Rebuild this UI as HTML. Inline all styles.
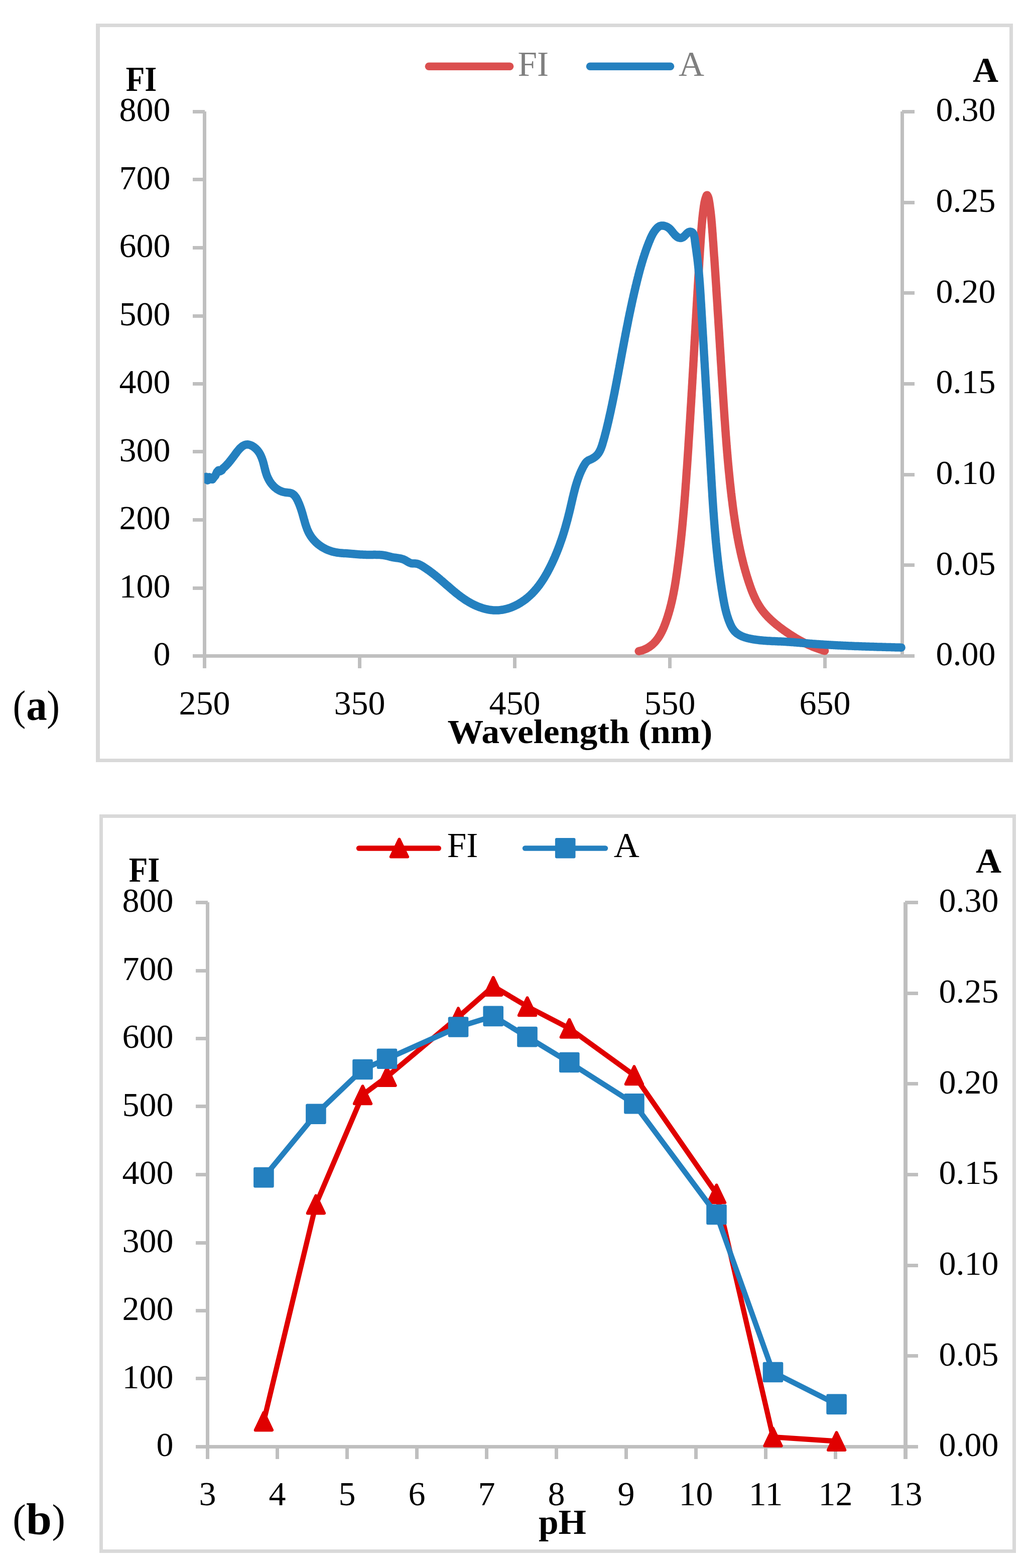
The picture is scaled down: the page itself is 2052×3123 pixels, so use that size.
<!DOCTYPE html>
<html lang="en">
<head>
<meta charset="utf-8">
<title>Figure: absorption and fluorescence spectra (a) and pH dependence (b)</title>
<style>
html,body{margin:0;padding:0;background:#fff;}
body{width:2052px;height:3123px;}
svg{display:block;}
text{font-family:"Liberation Serif","DejaVu Serif",serif;fill:#000;}
</style>
</head>
<body>
<svg width="2052" height="3123" viewBox="0 0 2052 3123" role="img" aria-label="Absorption and fluorescence spectra (a) and pH dependence (b)">
<rect x="0" y="0" width="2052" height="3123" fill="#fff"/>
<!-- chart (a) -->
<path fill="#D9D9D9" fill-rule="evenodd" d="M191 47H2018V1518H191ZM199 54H2011V1511H199Z"/>
<g fill="#BFBFBF">
<rect x="404" y="222" width="7" height="1085"/>
<rect x="1794" y="222" width="7" height="1085"/>
<rect x="384" y="1303" width="1438" height="7"/>
<rect x="384" y="219" width="24" height="7"/>
<rect x="384" y="354" width="24" height="7"/>
<rect x="384" y="490" width="24" height="7"/>
<rect x="384" y="626" width="24" height="7"/>
<rect x="384" y="761" width="24" height="7"/>
<rect x="384" y="896" width="24" height="7"/>
<rect x="384" y="1032" width="24" height="7"/>
<rect x="384" y="1168" width="24" height="7"/>
<rect x="1797" y="219" width="25" height="7"/>
<rect x="1797" y="400" width="25" height="7"/>
<rect x="1797" y="580" width="25" height="7"/>
<rect x="1797" y="761" width="25" height="7"/>
<rect x="1797" y="942" width="25" height="7"/>
<rect x="1797" y="1122" width="25" height="7"/>
<rect x="404" y="1306" width="7" height="25"/>
<rect x="713" y="1306" width="7" height="25"/>
<rect x="1022" y="1306" width="7" height="25"/>
<rect x="1331" y="1306" width="7" height="25"/>
<rect x="1640" y="1306" width="7" height="25"/>
</g>
<defs><clipPath id="clipA"><rect x="407" y="200" width="1420" height="1120"/></clipPath></defs>
<g fill="none" stroke-width="16.5" stroke-linecap="round" stroke-linejoin="round" clip-path="url(#clipA)">
<path stroke="#DB4F4F" d="M1272.7 1297.0L1274.3 1296.6L1276.0 1296.2L1277.6 1295.8L1279.1 1295.3L1280.7 1294.8L1282.1 1294.3L1283.6 1293.7L1285.0 1293.1L1286.4 1292.4L1287.8 1291.8L1289.2 1291.1L1290.5 1290.3L1291.8 1289.6L1293.0 1288.8L1294.2 1287.9L1295.5 1287.1L1296.6 1286.2L1297.8 1285.3L1298.9 1284.4L1300.0 1283.5L1301.1 1282.5L1302.1 1281.5L1303.2 1280.5L1304.2 1279.4L1305.1 1278.3L1306.1 1277.3L1307.0 1276.2L1307.9 1275.0L1308.8 1273.9L1309.7 1272.7L1310.6 1271.5L1311.4 1270.3L1312.2 1269.1L1313.0 1267.9L1313.8 1266.6L1314.6 1265.4L1315.3 1264.1L1316.0 1262.8L1316.7 1261.5L1317.4 1260.2L1318.1 1258.8L1318.8 1257.5L1319.4 1256.1L1320.1 1254.8L1320.7 1253.4L1321.3 1252.0L1321.9 1250.7L1322.5 1249.3L1323.1 1247.9L1323.6 1246.4L1324.2 1245.0L1324.7 1243.6L1325.3 1242.2L1325.8 1240.8L1326.3 1239.3L1326.8 1237.9L1327.3 1236.5L1327.8 1235.0L1328.3 1233.6L1328.8 1232.2L1329.3 1230.7L1329.7 1229.3L1330.2 1227.8L1330.6 1226.4L1331.1 1224.9L1331.5 1223.5L1332.0 1222.1L1332.4 1220.6L1332.8 1219.2L1333.2 1217.7L1333.6 1216.3L1334.1 1214.8L1334.5 1213.4L1334.8 1211.9L1335.2 1210.4L1335.6 1209.0L1336.0 1207.5L1336.4 1206.1L1336.7 1204.6L1337.1 1203.1L1337.4 1201.7L1337.8 1200.2L1338.1 1198.8L1338.5 1197.3L1338.8 1195.8L1339.1 1194.4L1339.4 1192.9L1339.8 1191.4L1340.1 1190.0L1340.4 1188.5L1340.7 1187.0L1341.0 1185.5L1341.3 1184.1L1341.6 1182.6L1341.9 1181.1L1342.2 1179.6L1342.4 1178.2L1342.7 1176.7L1343.0 1175.2L1343.3 1173.7L1343.5 1172.3L1343.8 1170.8L1344.1 1169.3L1344.3 1167.8L1344.6 1166.3L1344.8 1164.9L1345.1 1163.4L1345.3 1161.9L1345.6 1160.4L1345.8 1158.9L1346.0 1157.5L1346.3 1156.0L1346.5 1154.5L1346.7 1153.0L1346.9 1151.5L1347.2 1150.0L1347.4 1148.5L1347.6 1147.1L1347.8 1145.6L1348.0 1144.1L1348.3 1142.6L1348.5 1141.1L1348.7 1139.6L1348.9 1138.1L1349.1 1136.7L1349.3 1135.2L1349.5 1133.7L1349.7 1132.2L1349.9 1130.7L1350.1 1129.2L1350.3 1127.7L1350.5 1126.2L1350.7 1124.8L1350.9 1123.3L1351.1 1121.8L1351.3 1120.3L1351.5 1118.8L1351.7 1117.3L1351.9 1115.8L1352.1 1114.3L1352.2 1112.8L1352.4 1111.3L1352.6 1109.9L1352.8 1108.4L1353.0 1106.9L1353.2 1105.4L1353.3 1103.9L1353.5 1102.4L1353.7 1100.9L1353.9 1099.4L1354.1 1097.9L1354.2 1096.4L1354.4 1095.0L1354.6 1093.5L1354.7 1092.0L1354.9 1090.5L1355.1 1089.0L1355.3 1087.5L1355.4 1086.0L1355.6 1084.5L1355.8 1083.0L1355.9 1081.5L1356.1 1080.0L1356.2 1078.5L1356.4 1077.0L1356.6 1075.6L1356.7 1074.1L1356.9 1072.6L1357.0 1071.1L1357.2 1069.6L1357.3 1068.1L1357.5 1066.6L1357.7 1065.1L1357.8 1063.6L1358.0 1062.1L1358.1 1060.6L1358.3 1059.1L1358.4 1057.6L1358.6 1056.1L1358.7 1054.6L1358.9 1053.1L1359.0 1051.7L1359.1 1050.2L1359.3 1048.7L1359.4 1047.2L1359.6 1045.7L1359.7 1044.2L1359.9 1042.7L1360.0 1041.2L1360.1 1039.7L1360.3 1038.2L1360.4 1036.7L1360.5 1035.2L1360.7 1033.7L1360.8 1032.2L1360.9 1030.7L1361.1 1029.2L1361.2 1027.7L1361.3 1026.2L1361.5 1024.7L1361.6 1023.2L1361.7 1021.7L1361.9 1020.2L1362.0 1018.8L1362.1 1017.3L1362.3 1015.8L1362.4 1014.3L1362.5 1012.8L1362.6 1011.3L1362.8 1009.8L1362.9 1008.3L1363.0 1006.8L1363.1 1005.3L1363.2 1003.8L1363.4 1002.3L1363.5 1000.8L1363.6 999.3L1363.7 997.8L1363.8 996.3L1364.0 994.8L1364.1 993.3L1364.2 991.8L1364.3 990.3L1364.4 988.8L1364.6 987.3L1364.7 985.8L1364.8 984.3L1364.9 982.8L1365.0 981.3L1365.1 979.8L1365.2 978.3L1365.3 976.8L1365.5 975.3L1365.6 973.8L1365.7 972.3L1365.8 970.8L1365.9 969.3L1366.0 967.8L1366.1 966.3L1366.2 964.8L1366.3 963.3L1366.5 961.8L1366.6 960.3L1366.7 958.8L1366.8 957.3L1366.9 955.8L1367.0 954.3L1367.1 952.9L1367.2 951.4L1367.3 949.9L1367.4 948.4L1367.5 946.9L1367.6 945.4L1367.7 943.9L1367.8 942.4L1367.9 940.9L1368.0 939.4L1368.1 937.9L1368.2 936.4L1368.4 934.9L1368.5 933.4L1368.6 931.9L1368.7 930.4L1368.8 928.9L1368.9 927.4L1369.0 925.9L1369.1 924.4L1369.2 922.9L1369.3 921.4L1369.4 919.9L1369.5 918.4L1369.6 916.9L1369.7 915.4L1369.8 913.9L1369.9 912.4L1370.0 910.9L1370.1 909.4L1370.2 907.9L1370.3 906.4L1370.4 904.9L1370.5 903.4L1370.6 901.9L1370.7 900.4L1370.8 898.9L1370.9 897.4L1371.0 895.9L1371.1 894.4L1371.2 892.9L1371.3 891.4L1371.4 889.9L1371.5 888.4L1371.6 886.9L1371.6 885.4L1371.7 883.9L1371.8 882.4L1371.9 880.9L1372.0 879.4L1372.1 877.9L1372.2 876.4L1372.3 874.9L1372.4 873.4L1372.5 871.9L1372.6 870.4L1372.7 868.9L1372.8 867.4L1372.9 865.9L1373.0 864.4L1373.1 862.9L1373.2 861.4L1373.3 859.9L1373.4 858.4L1373.5 856.9L1373.6 855.4L1373.7 853.9L1373.7 852.4L1373.8 850.9L1373.9 849.4L1374.0 847.9L1374.1 846.4L1374.2 844.9L1374.3 843.4L1374.4 841.9L1374.5 840.4L1374.6 838.9L1374.7 837.4L1374.8 835.9L1374.9 834.4L1375.0 832.9L1375.0 831.4L1375.1 829.9L1375.2 828.4L1375.3 826.9L1375.4 825.4L1375.5 823.9L1375.6 822.4L1375.7 820.9L1375.8 819.4L1375.9 817.9L1376.0 816.4L1376.0 814.9L1376.1 813.4L1376.2 811.9L1376.3 810.4L1376.4 808.9L1376.5 807.4L1376.6 805.9L1376.7 804.4L1376.8 802.9L1376.9 801.4L1377.0 799.9L1377.0 798.4L1377.1 796.9L1377.2 795.4L1377.3 793.9L1377.4 792.4L1377.5 790.9L1377.6 789.4L1377.7 787.9L1377.8 786.4L1377.8 784.9L1377.9 783.4L1378.0 781.9L1378.1 780.4L1378.2 778.9L1378.3 777.4L1378.4 775.9L1378.5 774.4L1378.6 772.9L1378.6 771.4L1378.7 769.9L1378.8 768.4L1378.9 766.9L1379.0 765.4L1379.1 763.9L1379.2 762.4L1379.3 760.9L1379.3 759.4L1379.4 757.9L1379.5 756.4L1379.6 754.9L1379.7 753.4L1379.8 751.9L1379.9 750.4L1380.0 748.9L1380.0 747.4L1380.1 745.9L1380.2 744.4L1380.3 742.9L1380.4 741.4L1380.5 739.9L1380.6 738.4L1380.6 736.9L1380.7 735.4L1380.8 733.9L1380.9 732.4L1381.0 730.9L1381.1 729.4L1381.2 727.9L1381.3 726.4L1381.3 724.9L1381.4 723.4L1381.5 721.9L1381.6 720.4L1381.7 718.9L1381.8 717.4L1381.9 715.9L1381.9 714.4L1382.0 712.9L1382.1 711.4L1382.2 709.9L1382.3 708.4L1382.4 706.9L1382.5 705.4L1382.5 703.9L1382.6 702.4L1382.7 700.9L1382.8 699.4L1382.9 697.9L1383.0 696.4L1383.1 694.9L1383.1 693.4L1383.2 691.9L1383.3 690.4L1383.4 688.9L1383.5 687.4L1383.6 685.9L1383.7 684.4L1383.7 682.9L1383.8 681.4L1383.9 679.9L1384.0 678.4L1384.1 676.9L1384.2 675.4L1384.3 673.9L1384.3 672.4L1384.4 670.9L1384.5 669.4L1384.6 667.9L1384.7 666.4L1384.8 664.9L1384.9 663.4L1384.9 661.9L1385.0 660.4L1385.1 658.9L1385.2 657.4L1385.3 655.9L1385.4 654.4L1385.5 652.9L1385.5 651.4L1385.6 649.9L1385.7 648.4L1385.8 646.9L1385.9 645.4L1386.0 643.9L1386.1 642.4L1386.1 640.9L1386.2 639.4L1386.3 637.9L1386.4 636.4L1386.5 634.9L1386.6 633.4L1386.7 631.9L1386.8 630.4L1386.8 628.9L1386.9 627.4L1387.0 625.9L1387.1 624.4L1387.2 622.9L1387.3 621.4L1387.4 619.9L1387.4 618.4L1387.5 616.9L1387.6 615.4L1387.7 613.9L1387.8 612.4L1387.9 610.9L1388.0 609.4L1388.1 607.9L1388.1 606.4L1388.2 604.9L1388.3 603.4L1388.4 601.9L1388.5 600.4L1388.6 598.9L1388.7 597.4L1388.7 595.9L1388.8 594.4L1388.9 592.9L1389.0 591.4L1389.1 589.9L1389.2 588.4L1389.3 587.0L1389.4 585.5L1389.5 584.0L1389.5 582.5L1389.6 581.0L1389.7 579.5L1389.8 578.0L1389.9 576.5L1390.0 575.0L1390.1 573.5L1390.2 572.0L1390.2 570.5L1390.3 569.0L1390.4 567.5L1390.5 566.0L1390.6 564.5L1390.7 563.0L1390.8 561.5L1390.9 560.0L1391.0 558.5L1391.0 557.0L1391.1 555.5L1391.2 554.0L1391.3 552.5L1391.4 551.0L1391.5 549.5L1391.6 548.0L1391.7 546.5L1391.8 545.0L1391.9 543.5L1391.9 542.0L1392.0 540.5L1392.1 539.0L1392.2 537.5L1392.3 536.0L1392.4 534.5L1392.5 533.0L1392.6 531.5L1392.7 530.0L1392.8 528.5L1392.9 527.0L1393.0 525.5L1393.0 524.0L1393.1 522.5L1393.2 521.0L1393.3 519.5L1393.4 518.0L1393.5 516.5L1393.6 515.0L1393.7 513.5L1393.8 512.0L1393.9 510.5L1394.0 509.0L1394.1 507.5L1394.2 506.0L1394.2 504.5L1394.3 503.0L1394.4 501.5L1394.5 500.0L1394.6 498.5L1394.7 497.1L1394.8 495.6L1394.9 494.1L1395.0 492.6L1395.1 491.1L1395.2 489.6L1395.3 488.1L1395.4 486.6L1395.5 485.1L1395.6 483.6L1395.7 482.1L1395.8 480.6L1395.9 479.1L1396.0 477.6L1396.1 476.1L1396.2 474.6L1396.3 473.1L1396.4 471.6L1396.5 470.1L1396.6 468.6L1396.7 467.1L1396.8 465.6L1396.9 464.1L1397.0 462.6L1397.1 461.1L1397.2 459.6L1397.3 458.1L1397.4 456.6L1397.5 455.1L1397.7 453.6L1397.8 452.1L1397.9 450.6L1398.0 449.1L1398.2 447.6L1398.3 446.1L1398.4 444.6L1398.6 443.1L1398.7 441.6L1398.8 440.1L1399.0 438.6L1399.1 437.1L1399.3 435.6L1399.4 434.1L1399.6 432.6L1399.8 431.1L1399.9 429.6L1400.1 428.1L1400.3 426.6L1400.4 425.1L1400.6 423.6L1400.8 422.1L1401.0 420.6L1401.2 419.1L1401.4 417.6L1401.6 416.1L1401.8 414.6L1402.0 413.1L1402.2 411.6L1402.4 410.1L1402.7 408.6L1402.9 407.1L1403.2 405.6L1403.4 404.1L1403.7 402.6L1404.1 401.2L1404.4 399.7L1404.7 398.3L1405.1 396.9L1405.5 395.4L1406.0 394.0L1406.5 392.7L1407.0 391.3L1407.5 390.0L1408.1 388.8L1408.8 388.7L1409.4 389.7L1410.1 390.9L1410.6 392.3L1411.1 393.6L1411.5 395.0L1411.9 396.5L1412.2 398.0L1412.5 399.5L1412.7 401.0L1413.0 402.5L1413.2 404.0L1413.5 405.5L1413.7 407.0L1413.9 408.5L1414.1 410.0L1414.3 411.6L1414.5 413.1L1414.7 414.6L1414.9 416.1L1415.1 417.6L1415.3 419.1L1415.5 420.6L1415.7 422.1L1415.9 423.6L1416.0 425.1L1416.2 426.6L1416.4 428.1L1416.5 429.6L1416.7 431.1L1416.8 432.6L1417.0 434.1L1417.1 435.6L1417.3 437.1L1417.4 438.6L1417.5 440.1L1417.7 441.6L1417.8 443.1L1417.9 444.6L1418.1 446.1L1418.2 447.6L1418.3 449.1L1418.4 450.6L1418.5 452.1L1418.7 453.6L1418.8 455.1L1418.9 456.6L1419.0 458.1L1419.1 459.6L1419.2 461.1L1419.3 462.6L1419.5 464.1L1419.6 465.6L1419.7 467.0L1419.8 468.5L1419.9 470.0L1420.0 471.5L1420.1 473.0L1420.2 474.5L1420.3 476.0L1420.4 477.5L1420.5 479.0L1420.6 480.5L1420.8 482.0L1420.9 483.5L1421.0 485.0L1421.1 486.5L1421.2 488.0L1421.3 489.5L1421.4 491.0L1421.5 492.5L1421.6 494.0L1421.7 495.5L1421.8 497.0L1421.9 498.5L1422.0 500.0L1422.1 501.5L1422.2 503.0L1422.3 504.4L1422.4 505.9L1422.5 507.4L1422.6 508.9L1422.7 510.4L1422.9 511.9L1423.0 513.4L1423.1 514.9L1423.2 516.4L1423.3 517.9L1423.4 519.4L1423.5 520.9L1423.6 522.4L1423.7 523.9L1423.8 525.4L1423.9 526.9L1424.0 528.4L1424.1 529.9L1424.2 531.4L1424.3 532.9L1424.4 534.4L1424.5 535.9L1424.6 537.4L1424.7 538.9L1424.8 540.4L1424.9 541.9L1425.0 543.4L1425.1 544.9L1425.2 546.4L1425.3 547.9L1425.4 549.4L1425.5 550.9L1425.6 552.4L1425.7 553.9L1425.8 555.4L1425.9 556.9L1426.0 558.4L1426.1 559.8L1426.2 561.3L1426.3 562.8L1426.4 564.3L1426.5 565.8L1426.6 567.3L1426.7 568.8L1426.8 570.3L1426.9 571.8L1427.0 573.3L1427.1 574.8L1427.1 576.3L1427.2 577.8L1427.3 579.3L1427.4 580.8L1427.5 582.3L1427.6 583.8L1427.7 585.3L1427.8 586.8L1427.9 588.3L1428.0 589.8L1428.1 591.3L1428.2 592.8L1428.3 594.3L1428.4 595.8L1428.5 597.3L1428.6 598.8L1428.7 600.3L1428.8 601.8L1428.9 603.3L1429.0 604.8L1429.1 606.3L1429.2 607.8L1429.3 609.3L1429.4 610.8L1429.5 612.3L1429.5 613.8L1429.6 615.3L1429.7 616.8L1429.8 618.3L1429.9 619.8L1430.0 621.3L1430.1 622.8L1430.2 624.3L1430.3 625.8L1430.4 627.3L1430.5 628.8L1430.6 630.3L1430.7 631.8L1430.8 633.3L1430.9 634.8L1431.0 636.3L1431.1 637.8L1431.2 639.3L1431.2 640.8L1431.3 642.3L1431.4 643.8L1431.5 645.3L1431.6 646.8L1431.7 648.3L1431.8 649.8L1431.9 651.3L1432.0 652.8L1432.1 654.3L1432.2 655.8L1432.3 657.3L1432.4 658.8L1432.5 660.3L1432.6 661.8L1432.7 663.3L1432.8 664.8L1432.8 666.3L1432.9 667.8L1433.0 669.3L1433.1 670.8L1433.2 672.3L1433.3 673.8L1433.4 675.3L1433.5 676.8L1433.6 678.3L1433.7 679.8L1433.8 681.3L1433.9 682.8L1434.0 684.3L1434.1 685.8L1434.2 687.3L1434.2 688.8L1434.3 690.3L1434.4 691.8L1434.5 693.3L1434.6 694.8L1434.7 696.3L1434.8 697.8L1434.9 699.3L1435.0 700.8L1435.1 702.3L1435.2 703.8L1435.3 705.3L1435.4 706.8L1435.5 708.3L1435.6 709.8L1435.7 711.3L1435.8 712.8L1435.8 714.3L1435.9 715.8L1436.0 717.3L1436.1 718.8L1436.2 720.3L1436.3 721.8L1436.4 723.3L1436.5 724.8L1436.6 726.3L1436.7 727.8L1436.8 729.3L1436.9 730.8L1437.0 732.3L1437.1 733.8L1437.2 735.3L1437.3 736.8L1437.4 738.3L1437.5 739.8L1437.5 741.3L1437.6 742.8L1437.7 744.3L1437.8 745.8L1437.9 747.3L1438.0 748.8L1438.1 750.3L1438.2 751.8L1438.3 753.3L1438.4 754.8L1438.5 756.3L1438.6 757.8L1438.7 759.3L1438.8 760.8L1438.9 762.3L1439.0 763.8L1439.1 765.3L1439.2 766.8L1439.3 768.3L1439.4 769.8L1439.5 771.3L1439.6 772.8L1439.7 774.3L1439.8 775.8L1439.8 777.3L1439.9 778.8L1440.0 780.3L1440.1 781.8L1440.2 783.3L1440.3 784.8L1440.4 786.3L1440.5 787.8L1440.6 789.3L1440.7 790.8L1440.8 792.3L1440.9 793.8L1441.0 795.3L1441.1 796.8L1441.2 798.3L1441.3 799.8L1441.4 801.3L1441.5 802.8L1441.6 804.3L1441.7 805.8L1441.8 807.3L1441.9 808.8L1442.0 810.3L1442.1 811.8L1442.2 813.3L1442.3 814.8L1442.4 816.3L1442.5 817.8L1442.6 819.3L1442.7 820.8L1442.8 822.3L1442.9 823.8L1443.0 825.3L1443.1 826.7L1443.2 828.2L1443.3 829.7L1443.4 831.2L1443.5 832.7L1443.6 834.2L1443.7 835.7L1443.8 837.2L1444.0 838.7L1444.1 840.2L1444.2 841.7L1444.3 843.2L1444.4 844.7L1444.5 846.2L1444.6 847.7L1444.7 849.2L1444.8 850.7L1444.9 852.2L1445.0 853.7L1445.1 855.2L1445.2 856.7L1445.3 858.2L1445.5 859.7L1445.6 861.2L1445.7 862.7L1445.8 864.2L1445.9 865.7L1446.0 867.2L1446.1 868.7L1446.2 870.2L1446.4 871.7L1446.5 873.2L1446.6 874.7L1446.7 876.2L1446.8 877.7L1446.9 879.2L1447.0 880.7L1447.2 882.2L1447.3 883.7L1447.4 885.2L1447.5 886.7L1447.6 888.2L1447.8 889.7L1447.9 891.2L1448.0 892.7L1448.1 894.2L1448.2 895.7L1448.4 897.2L1448.5 898.7L1448.6 900.2L1448.7 901.7L1448.9 903.2L1449.0 904.7L1449.1 906.2L1449.3 907.7L1449.4 909.2L1449.5 910.6L1449.6 912.1L1449.8 913.6L1449.9 915.1L1450.0 916.6L1450.2 918.1L1450.3 919.6L1450.4 921.1L1450.6 922.6L1450.7 924.1L1450.8 925.6L1451.0 927.1L1451.1 928.6L1451.3 930.1L1451.4 931.6L1451.5 933.1L1451.7 934.6L1451.8 936.1L1452.0 937.6L1452.1 939.1L1452.3 940.6L1452.4 942.0L1452.6 943.5L1452.7 945.0L1452.9 946.5L1453.0 948.0L1453.2 949.5L1453.3 951.0L1453.5 952.5L1453.6 954.0L1453.8 955.5L1453.9 957.0L1454.1 958.5L1454.2 960.0L1454.4 961.5L1454.5 963.0L1454.7 964.4L1454.9 965.9L1455.0 967.4L1455.2 968.9L1455.4 970.4L1455.5 971.9L1455.7 973.4L1455.9 974.9L1456.0 976.4L1456.2 977.9L1456.4 979.4L1456.5 980.9L1456.7 982.3L1456.9 983.8L1457.1 985.3L1457.2 986.8L1457.4 988.3L1457.6 989.8L1457.8 991.3L1458.0 992.8L1458.1 994.3L1458.3 995.8L1458.5 997.2L1458.7 998.7L1458.9 1000.2L1459.1 1001.7L1459.3 1003.2L1459.4 1004.7L1459.6 1006.2L1459.8 1007.7L1460.0 1009.2L1460.2 1010.6L1460.4 1012.1L1460.6 1013.6L1460.8 1015.1L1461.0 1016.6L1461.2 1018.1L1461.4 1019.6L1461.6 1021.1L1461.8 1022.5L1462.0 1024.0L1462.2 1025.5L1462.5 1027.0L1462.7 1028.5L1462.9 1030.0L1463.1 1031.5L1463.3 1032.9L1463.5 1034.4L1463.8 1035.9L1464.0 1037.4L1464.2 1038.9L1464.4 1040.4L1464.7 1041.8L1464.9 1043.3L1465.1 1044.8L1465.4 1046.3L1465.6 1047.8L1465.8 1049.2L1466.1 1050.7L1466.3 1052.2L1466.6 1053.7L1466.8 1055.2L1467.1 1056.6L1467.3 1058.1L1467.6 1059.6L1467.8 1061.1L1468.1 1062.6L1468.3 1064.0L1468.6 1065.5L1468.9 1067.0L1469.1 1068.5L1469.4 1069.9L1469.7 1071.4L1470.0 1072.9L1470.2 1074.4L1470.5 1075.8L1470.8 1077.3L1471.1 1078.8L1471.4 1080.3L1471.7 1081.7L1471.9 1083.2L1472.2 1084.7L1472.5 1086.1L1472.8 1087.6L1473.1 1089.1L1473.5 1090.5L1473.8 1092.0L1474.1 1093.5L1474.4 1095.0L1474.7 1096.4L1475.0 1097.9L1475.4 1099.4L1475.7 1100.8L1476.0 1102.3L1476.3 1103.7L1476.7 1105.2L1477.0 1106.7L1477.4 1108.1L1477.7 1109.6L1478.1 1111.1L1478.4 1112.5L1478.8 1114.0L1479.1 1115.4L1479.5 1116.9L1479.9 1118.3L1480.2 1119.8L1480.6 1121.3L1481.0 1122.7L1481.3 1124.2L1481.7 1125.6L1482.1 1127.1L1482.5 1128.5L1482.9 1130.0L1483.3 1131.4L1483.7 1132.9L1484.1 1134.3L1484.5 1135.8L1484.9 1137.2L1485.3 1138.7L1485.8 1140.1L1486.2 1141.6L1486.6 1143.0L1487.0 1144.5L1487.5 1145.9L1487.9 1147.4L1488.3 1148.8L1488.8 1150.2L1489.2 1151.7L1489.7 1153.1L1490.2 1154.6L1490.6 1156.0L1491.1 1157.4L1491.6 1158.9L1492.0 1160.3L1492.5 1161.7L1493.0 1163.2L1493.5 1164.6L1494.0 1166.0L1494.5 1167.5L1495.0 1168.9L1495.5 1170.3L1496.0 1171.7L1496.5 1173.2L1497.0 1174.6L1497.6 1176.0L1498.1 1177.4L1498.7 1178.8L1499.2 1180.2L1499.8 1181.6L1500.4 1183.0L1501.0 1184.4L1501.6 1185.8L1502.2 1187.1L1502.8 1188.5L1503.4 1189.9L1504.1 1191.2L1504.7 1192.6L1505.4 1193.9L1506.0 1195.3L1506.7 1196.6L1507.4 1197.9L1508.1 1199.2L1508.8 1200.5L1509.6 1201.8L1510.3 1203.1L1511.1 1204.4L1511.8 1205.7L1512.6 1206.9L1513.4 1208.2L1514.2 1209.4L1515.1 1210.7L1515.9 1211.9L1516.8 1213.1L1517.7 1214.3L1518.5 1215.5L1519.5 1216.7L1520.4 1217.9L1521.3 1219.0L1522.3 1220.2L1523.2 1221.3L1524.2 1222.5L1525.2 1223.6L1526.2 1224.7L1527.2 1225.8L1528.2 1226.9L1529.2 1228.0L1530.3 1229.1L1531.3 1230.1L1532.4 1231.2L1533.5 1232.2L1534.6 1233.3L1535.7 1234.3L1536.8 1235.3L1537.9 1236.4L1539.0 1237.4L1540.1 1238.4L1541.3 1239.4L1542.4 1240.4L1543.6 1241.4L1544.8 1242.3L1545.9 1243.3L1547.1 1244.3L1548.3 1245.2L1549.5 1246.2L1550.7 1247.1L1551.9 1248.0L1553.1 1249.0L1554.3 1249.9L1555.5 1250.8L1556.7 1251.7L1557.9 1252.6L1559.2 1253.5L1560.4 1254.4L1561.6 1255.3L1562.8 1256.1L1564.1 1257.0L1565.3 1257.9L1566.6 1258.7L1567.8 1259.6L1569.1 1260.4L1570.3 1261.3L1571.6 1262.1L1572.8 1263.0L1574.1 1263.8L1575.3 1264.6L1576.6 1265.4L1577.9 1266.2L1579.1 1267.0L1580.4 1267.8L1581.7 1268.6L1582.9 1269.4L1584.2 1270.2L1585.5 1270.9L1586.8 1271.7L1588.1 1272.5L1589.4 1273.2L1590.7 1273.9L1592.0 1274.7L1593.3 1275.4L1594.6 1276.1L1595.9 1276.8L1597.2 1277.5L1598.5 1278.2L1599.9 1278.9L1601.2 1279.6L1602.5 1280.3L1603.9 1281.0L1605.2 1281.6L1606.5 1282.3L1607.9 1282.9L1609.2 1283.6L1610.6 1284.2L1612.0 1284.8L1613.3 1285.4L1614.7 1286.0L1616.1 1286.6L1617.4 1287.2L1618.8 1287.8L1620.2 1288.4L1621.6 1288.9L1623.0 1289.5L1624.4 1290.0L1625.8 1290.6L1627.2 1291.1L1628.6 1291.6L1630.0 1292.1L1631.4 1292.6L1632.9 1293.1L1634.3 1293.6L1635.7 1294.1L1637.2 1294.5L1638.6 1295.0L1640.1 1295.4L1641.5 1295.9L1643.0 1296.3"/>
<path stroke="#2480BF" d="M398.0 954.5L407.5 954.3L410.6 949.8L413.7 956.6L416.8 950.2L419.9 954.3L423.0 954.8L426.0 951.0L429.2 947.0L432.3 940.0L435.4 936.6L438.5 938.6L441.6 937.0L444.7 932.5L447.5 930.3L448.5 929.2L449.6 928.1L450.6 927.1L451.6 926.0L452.6 924.9L453.6 923.8L454.6 922.8L455.5 921.7L456.4 920.6L457.3 919.5L458.3 918.4L459.1 917.2L460.0 916.1L460.9 915.0L461.8 913.8L462.7 912.6L463.6 911.5L464.5 910.3L465.4 909.1L466.3 907.9L467.2 906.7L468.1 905.4L469.0 904.2L470.0 902.9L471.0 901.6L471.9 900.3L472.9 899.0L474.0 897.8L475.0 896.5L476.1 895.3L477.1 894.1L478.2 892.9L479.4 891.8L480.5 890.8L481.7 889.8L482.8 888.9L484.0 888.1L485.3 887.4L486.5 886.8L487.8 886.2L489.1 885.8L490.4 885.5L491.7 885.4L493.1 885.3L494.5 885.4L495.9 885.7L497.3 886.0L498.7 886.5L500.1 887.1L501.5 887.7L502.9 888.5L504.2 889.3L505.6 890.2L506.8 891.1L508.0 892.1L509.2 893.1L510.3 894.2L511.4 895.3L512.4 896.4L513.4 897.5L514.3 898.7L515.2 899.9L516.0 901.2L516.8 902.4L517.6 903.7L518.3 905.0L519.0 906.3L519.6 907.7L520.2 909.0L520.8 910.4L521.4 911.8L521.9 913.2L522.4 914.7L522.9 916.1L523.4 917.5L523.9 919.0L524.3 920.4L524.7 921.9L525.1 923.4L525.5 924.8L525.8 926.3L526.2 927.7L526.6 929.2L526.9 930.7L527.3 932.1L527.7 933.6L528.0 935.0L528.4 936.5L528.8 937.9L529.2 939.4L529.6 940.8L530.1 942.2L530.5 943.7L531.0 945.1L531.5 946.5L532.0 947.9L532.6 949.3L533.2 950.6L533.8 952.0L534.5 953.3L535.2 954.7L535.9 956.0L536.6 957.3L537.4 958.6L538.2 959.8L539.0 961.1L539.9 962.3L540.8 963.5L541.7 964.6L542.7 965.8L543.7 966.9L544.7 968.0L545.8 969.1L546.9 970.1L548.0 971.1L549.2 972.0L550.4 973.0L551.6 973.9L552.9 974.7L554.2 975.5L555.5 976.3L556.8 977.0L558.2 977.6L559.6 978.2L560.9 978.8L562.3 979.2L563.8 979.6L565.2 980.0L566.6 980.3L568.1 980.6L569.6 980.8L571.1 981.0L572.7 981.1L574.3 981.3L575.9 981.4L577.4 981.7L578.9 982.0L580.3 982.4L581.6 983.0L582.8 983.7L584.0 984.5L585.1 985.4L586.1 986.4L587.1 987.4L588.0 988.6L588.9 989.8L589.8 991.0L590.5 992.3L591.3 993.6L592.0 995.0L592.7 996.4L593.4 997.8L594.0 999.2L594.6 1000.6L595.2 1001.9L595.8 1003.3L596.4 1004.7L596.9 1006.1L597.5 1007.6L598.0 1009.0L598.5 1010.4L599.0 1011.8L599.5 1013.2L599.9 1014.6L600.4 1016.0L600.9 1017.4L601.3 1018.9L601.7 1020.3L602.2 1021.7L602.6 1023.1L603.0 1024.6L603.4 1026.0L603.8 1027.5L604.2 1028.9L604.6 1030.3L605.0 1031.8L605.4 1033.2L605.8 1034.7L606.3 1036.1L606.7 1037.6L607.1 1039.1L607.5 1040.5L607.9 1042.0L608.4 1043.4L608.8 1044.9L609.3 1046.3L609.8 1047.8L610.3 1049.2L610.8 1050.7L611.3 1052.1L611.8 1053.5L612.4 1054.9L613.0 1056.3L613.6 1057.7L614.2 1059.0L614.9 1060.4L615.5 1061.7L616.3 1063.0L617.0 1064.3L617.8 1065.6L618.6 1066.9L619.4 1068.1L620.2 1069.4L621.1 1070.6L622.0 1071.8L622.9 1072.9L623.9 1074.1L624.8 1075.2L625.8 1076.3L626.8 1077.4L627.9 1078.5L628.9 1079.6L630.0 1080.6L631.1 1081.6L632.2 1082.6L633.4 1083.6L634.5 1084.5L635.7 1085.4L636.9 1086.3L638.1 1087.2L639.4 1088.0L640.6 1088.9L641.9 1089.7L643.2 1090.4L644.4 1091.2L645.8 1091.9L647.1 1092.6L648.4 1093.3L649.8 1094.0L651.1 1094.6L652.5 1095.2L653.9 1095.8L655.3 1096.3L656.7 1096.8L658.1 1097.3L659.5 1097.8L661.0 1098.2L662.4 1098.7L663.9 1099.0L665.3 1099.4L666.8 1099.7L668.3 1100.0L669.7 1100.3L671.2 1100.5L672.7 1100.7L674.2 1100.9L675.7 1101.1L677.2 1101.3L678.7 1101.4L680.2 1101.5L681.7 1101.7L683.2 1101.8L684.7 1101.9L686.3 1102.0L687.8 1102.0L689.3 1102.1L690.8 1102.2L692.3 1102.3L693.8 1102.4L695.3 1102.6L696.7 1102.7L698.2 1102.8L699.7 1102.9L701.2 1103.1L702.7 1103.2L704.2 1103.3L705.7 1103.5L707.1 1103.6L708.6 1103.7L710.1 1103.8L711.6 1103.9L713.1 1104.1L714.6 1104.2L716.1 1104.3L717.6 1104.4L719.1 1104.4L720.6 1104.5L722.1 1104.6L723.6 1104.7L725.1 1104.7L726.6 1104.8L728.1 1104.8L729.6 1104.9L731.1 1104.9L732.6 1104.9L734.1 1104.9L735.6 1104.9L737.1 1104.9L738.6 1104.9L740.1 1104.9L741.6 1104.9L743.1 1104.9L744.6 1104.8L746.1 1104.8L747.6 1104.8L749.1 1104.9L750.6 1104.9L752.1 1104.9L753.6 1105.0L755.1 1105.0L756.6 1105.1L758.1 1105.2L759.6 1105.3L761.1 1105.5L762.5 1105.6L764.0 1105.8L765.5 1106.1L767.0 1106.3L768.4 1106.6L769.9 1106.9L771.3 1107.2L772.8 1107.6L774.3 1108.0L775.7 1108.4L777.2 1108.8L778.6 1109.2L780.1 1109.5L781.6 1109.8L783.1 1110.1L784.5 1110.3L786.0 1110.6L787.5 1110.8L789.0 1111.0L790.5 1111.2L792.0 1111.4L793.5 1111.6L795.0 1111.9L796.4 1112.1L797.9 1112.4L799.3 1112.8L800.8 1113.2L802.2 1113.6L803.6 1114.1L805.0 1114.7L806.3 1115.3L807.7 1116.0L809.0 1116.8L810.4 1117.6L811.7 1118.4L813.0 1119.1L814.3 1119.9L815.6 1120.5L817.0 1121.1L818.3 1121.6L819.7 1122.0L821.0 1122.2L822.5 1122.3L823.9 1122.3L825.3 1122.3L826.7 1122.3L828.2 1122.4L829.6 1122.6L831.0 1122.9L832.4 1123.3L833.7 1123.7L835.1 1124.3L836.5 1124.9L837.8 1125.6L839.1 1126.3L840.5 1127.0L841.8 1127.8L843.1 1128.6L844.4 1129.5L845.7 1130.3L846.9 1131.1L848.2 1132.0L849.5 1132.8L850.7 1133.7L852.0 1134.6L853.2 1135.4L854.5 1136.3L855.7 1137.2L856.9 1138.1L858.1 1139.0L859.3 1139.9L860.5 1140.8L861.7 1141.7L862.9 1142.6L864.1 1143.6L865.3 1144.5L866.5 1145.4L867.6 1146.4L868.8 1147.3L870.0 1148.3L871.1 1149.2L872.3 1150.2L873.4 1151.1L874.6 1152.1L875.7 1153.0L876.9 1154.0L878.0 1155.0L879.1 1156.0L880.3 1156.9L881.4 1157.9L882.6 1158.9L883.7 1159.9L884.8 1160.8L886.0 1161.8L887.1 1162.8L888.2 1163.8L889.3 1164.8L890.5 1165.8L891.6 1166.7L892.7 1167.7L893.9 1168.7L895.0 1169.7L896.1 1170.7L897.3 1171.7L898.4 1172.6L899.6 1173.6L900.7 1174.6L901.8 1175.5L903.0 1176.5L904.1 1177.5L905.3 1178.4L906.5 1179.4L907.6 1180.3L908.8 1181.3L909.9 1182.2L911.1 1183.1L912.3 1184.0L913.5 1185.0L914.7 1185.9L915.8 1186.8L917.0 1187.7L918.2 1188.6L919.4 1189.5L920.7 1190.3L921.9 1191.2L923.1 1192.0L924.3 1192.9L925.6 1193.7L926.8 1194.6L928.1 1195.4L929.3 1196.2L930.6 1197.0L931.9 1197.8L933.2 1198.5L934.4 1199.3L935.7 1200.0L937.1 1200.8L938.4 1201.5L939.7 1202.2L941.0 1202.9L942.4 1203.6L943.7 1204.3L945.1 1204.9L946.5 1205.6L947.9 1206.2L949.3 1206.8L950.7 1207.4L952.1 1208.0L953.5 1208.5L954.9 1209.1L956.4 1209.6L957.8 1210.1L959.2 1210.6L960.7 1211.1L962.1 1211.5L963.6 1212.0L965.1 1212.4L966.5 1212.7L968.0 1213.1L969.5 1213.4L971.0 1213.8L972.5 1214.0L974.0 1214.3L975.4 1214.6L976.9 1214.8L978.4 1215.0L979.9 1215.1L981.4 1215.3L982.9 1215.4L984.4 1215.5L985.9 1215.5L987.4 1215.6L988.9 1215.5L990.3 1215.5L991.8 1215.5L993.3 1215.4L994.8 1215.3L996.3 1215.1L997.7 1214.9L999.2 1214.7L1000.7 1214.5L1002.1 1214.3L1003.6 1214.0L1005.1 1213.7L1006.5 1213.4L1008.0 1213.0L1009.4 1212.6L1010.8 1212.3L1012.3 1211.8L1013.7 1211.4L1015.1 1210.9L1016.5 1210.4L1017.9 1209.9L1019.3 1209.4L1020.7 1208.8L1022.1 1208.2L1023.5 1207.7L1024.9 1207.0L1026.2 1206.4L1027.6 1205.7L1028.9 1205.1L1030.3 1204.4L1031.6 1203.7L1032.9 1202.9L1034.2 1202.2L1035.5 1201.4L1036.8 1200.6L1038.1 1199.8L1039.4 1199.0L1040.6 1198.2L1041.9 1197.3L1043.1 1196.4L1044.3 1195.6L1045.6 1194.7L1046.8 1193.8L1048.0 1192.8L1049.1 1191.9L1050.3 1191.0L1051.5 1190.0L1052.6 1189.0L1053.7 1188.0L1054.9 1187.0L1056.0 1186.0L1057.0 1185.0L1058.1 1184.0L1059.2 1182.9L1060.3 1181.8L1061.3 1180.8L1062.3 1179.7L1063.3 1178.6L1064.4 1177.5L1065.4 1176.4L1066.3 1175.3L1067.3 1174.1L1068.3 1173.0L1069.2 1171.9L1070.2 1170.7L1071.1 1169.5L1072.0 1168.3L1073.0 1167.2L1073.9 1166.0L1074.8 1164.8L1075.6 1163.6L1076.5 1162.3L1077.4 1161.1L1078.2 1159.9L1079.1 1158.6L1079.9 1157.4L1080.7 1156.1L1081.6 1154.9L1082.4 1153.6L1083.2 1152.3L1084.0 1151.1L1084.8 1149.8L1085.5 1148.5L1086.3 1147.2L1087.1 1145.9L1087.8 1144.6L1088.6 1143.3L1089.3 1142.0L1090.1 1140.7L1090.8 1139.3L1091.5 1138.0L1092.2 1136.7L1092.9 1135.3L1093.6 1134.0L1094.3 1132.7L1095.0 1131.3L1095.7 1130.0L1096.4 1128.6L1097.0 1127.3L1097.7 1125.9L1098.4 1124.6L1099.0 1123.2L1099.7 1121.9L1100.3 1120.5L1100.9 1119.1L1101.6 1117.8L1102.2 1116.4L1102.8 1115.0L1103.4 1113.7L1104.1 1112.3L1104.7 1110.9L1105.3 1109.6L1105.9 1108.2L1106.4 1106.8L1107.0 1105.4L1107.6 1104.0L1108.2 1102.6L1108.8 1101.3L1109.3 1099.9L1109.9 1098.5L1110.4 1097.1L1111.0 1095.7L1111.5 1094.3L1112.1 1092.9L1112.6 1091.5L1113.1 1090.1L1113.7 1088.7L1114.2 1087.3L1114.7 1085.9L1115.2 1084.5L1115.7 1083.1L1116.2 1081.7L1116.7 1080.2L1117.2 1078.8L1117.7 1077.4L1118.2 1076.0L1118.7 1074.6L1119.2 1073.2L1119.7 1071.7L1120.1 1070.3L1120.6 1068.9L1121.1 1067.5L1121.5 1066.1L1122.0 1064.6L1122.4 1063.2L1122.9 1061.8L1123.3 1060.3L1123.7 1058.9L1124.2 1057.5L1124.6 1056.0L1125.0 1054.6L1125.5 1053.2L1125.9 1051.7L1126.3 1050.3L1126.7 1048.9L1127.1 1047.4L1127.5 1046.0L1127.9 1044.5L1128.3 1043.1L1128.7 1041.7L1129.1 1040.2L1129.5 1038.8L1129.9 1037.3L1130.3 1035.9L1130.7 1034.4L1131.1 1033.0L1131.4 1031.5L1131.8 1030.1L1132.2 1028.6L1132.5 1027.2L1132.9 1025.7L1133.3 1024.3L1133.6 1022.8L1134.0 1021.3L1134.4 1019.9L1134.7 1018.4L1135.1 1017.0L1135.4 1015.5L1135.8 1014.0L1136.1 1012.6L1136.5 1011.1L1136.8 1009.6L1137.1 1008.2L1137.5 1006.7L1137.8 1005.2L1138.2 1003.8L1138.5 1002.3L1138.8 1000.8L1139.2 999.4L1139.5 997.9L1139.9 996.4L1140.2 994.9L1140.5 993.5L1140.9 992.0L1141.2 990.5L1141.6 989.1L1141.9 987.6L1142.3 986.1L1142.6 984.7L1143.0 983.2L1143.4 981.8L1143.7 980.3L1144.1 978.8L1144.5 977.4L1144.9 975.9L1145.2 974.5L1145.6 973.0L1146.0 971.6L1146.4 970.1L1146.8 968.7L1147.3 967.2L1147.7 965.8L1148.1 964.4L1148.6 962.9L1149.0 961.5L1149.5 960.1L1149.9 958.6L1150.4 957.2L1150.9 955.8L1151.3 954.4L1151.8 953.0L1152.4 951.6L1152.9 950.2L1153.4 948.8L1153.9 947.4L1154.5 946.0L1155.0 944.6L1155.6 943.2L1156.2 941.8L1156.8 940.5L1157.4 939.1L1158.0 937.7L1158.7 936.4L1159.3 935.0L1160.0 933.7L1160.6 932.4L1161.3 931.0L1162.0 929.7L1162.7 928.4L1163.5 927.1L1164.2 925.8L1165.0 924.5L1165.8 923.2L1166.7 922.0L1167.6 920.9L1168.6 919.8L1169.6 918.8L1170.8 918.0L1172.0 917.2L1173.4 916.5L1174.8 915.9L1176.2 915.3L1177.6 914.6L1179.0 914.0L1180.4 913.2L1181.7 912.4L1183.0 911.6L1184.3 910.8L1185.5 909.8L1186.7 908.9L1187.8 907.9L1188.9 906.8L1189.9 905.7L1190.8 904.6L1191.7 903.5L1192.6 902.2L1193.4 901.0L1194.1 899.7L1194.8 898.5L1195.5 897.1L1196.1 895.8L1196.7 894.4L1197.3 893.0L1197.8 891.6L1198.3 890.2L1198.8 888.8L1199.3 887.4L1199.8 885.9L1200.2 884.5L1200.6 883.0L1201.1 881.5L1201.5 880.1L1201.9 878.6L1202.3 877.2L1202.8 875.7L1203.2 874.3L1203.6 872.8L1204.0 871.3L1204.4 869.9L1204.8 868.4L1205.2 867.0L1205.5 865.5L1205.9 864.1L1206.3 862.6L1206.7 861.2L1207.1 859.7L1207.4 858.2L1207.8 856.8L1208.2 855.3L1208.5 853.9L1208.9 852.4L1209.2 851.0L1209.6 849.5L1209.9 848.1L1210.3 846.6L1210.6 845.1L1211.0 843.7L1211.3 842.2L1211.7 840.8L1212.0 839.3L1212.3 837.9L1212.7 836.4L1213.0 834.9L1213.3 833.5L1213.7 832.0L1214.0 830.6L1214.3 829.1L1214.6 827.6L1215.0 826.2L1215.3 824.7L1215.6 823.3L1215.9 821.8L1216.3 820.3L1216.6 818.9L1216.9 817.4L1217.2 815.9L1217.5 814.5L1217.8 813.0L1218.1 811.5L1218.5 810.1L1218.8 808.6L1219.1 807.1L1219.4 805.7L1219.7 804.2L1220.0 802.7L1220.3 801.3L1220.6 799.8L1220.9 798.3L1221.2 796.9L1221.5 795.4L1221.8 793.9L1222.1 792.5L1222.4 791.0L1222.7 789.5L1223.0 788.1L1223.3 786.6L1223.6 785.1L1223.9 783.6L1224.2 782.2L1224.5 780.7L1224.8 779.2L1225.0 777.8L1225.3 776.3L1225.6 774.8L1225.9 773.3L1226.2 771.9L1226.5 770.4L1226.8 768.9L1227.1 767.4L1227.3 766.0L1227.6 764.5L1227.9 763.0L1228.2 761.6L1228.5 760.1L1228.8 758.6L1229.0 757.1L1229.3 755.7L1229.6 754.2L1229.9 752.7L1230.2 751.2L1230.4 749.8L1230.7 748.3L1231.0 746.8L1231.3 745.3L1231.6 743.9L1231.8 742.4L1232.1 740.9L1232.4 739.4L1232.7 737.9L1232.9 736.5L1233.2 735.0L1233.5 733.5L1233.8 732.0L1234.0 730.6L1234.3 729.1L1234.6 727.6L1234.9 726.1L1235.1 724.7L1235.4 723.2L1235.7 721.7L1236.0 720.2L1236.2 718.8L1236.5 717.3L1236.8 715.8L1237.1 714.3L1237.3 712.9L1237.6 711.4L1237.9 709.9L1238.2 708.4L1238.4 706.9L1238.7 705.5L1239.0 704.0L1239.3 702.5L1239.5 701.0L1239.8 699.6L1240.1 698.1L1240.4 696.6L1240.6 695.1L1240.9 693.7L1241.2 692.2L1241.5 690.7L1241.7 689.2L1242.0 687.8L1242.3 686.3L1242.6 684.8L1242.9 683.3L1243.1 681.9L1243.4 680.4L1243.7 678.9L1244.0 677.4L1244.3 676.0L1244.5 674.5L1244.8 673.0L1245.1 671.5L1245.4 670.1L1245.7 668.6L1245.9 667.1L1246.2 665.6L1246.5 664.2L1246.8 662.7L1247.1 661.2L1247.4 659.7L1247.7 658.3L1247.9 656.8L1248.2 655.3L1248.5 653.9L1248.8 652.4L1249.1 650.9L1249.4 649.4L1249.7 648.0L1250.0 646.5L1250.3 645.0L1250.6 643.6L1250.9 642.1L1251.1 640.6L1251.4 639.1L1251.7 637.7L1252.0 636.2L1252.3 634.7L1252.6 633.3L1252.9 631.8L1253.2 630.3L1253.5 628.8L1253.8 627.4L1254.1 625.9L1254.4 624.4L1254.7 623.0L1255.1 621.5L1255.4 620.0L1255.7 618.6L1256.0 617.1L1256.3 615.6L1256.6 614.2L1256.9 612.7L1257.2 611.2L1257.5 609.8L1257.9 608.3L1258.2 606.8L1258.5 605.4L1258.8 603.9L1259.1 602.4L1259.4 601.0L1259.8 599.5L1260.1 598.0L1260.4 596.6L1260.7 595.1L1261.1 593.6L1261.4 592.2L1261.7 590.7L1262.1 589.2L1262.4 587.8L1262.7 586.3L1263.1 584.9L1263.4 583.4L1263.7 581.9L1264.1 580.5L1264.4 579.0L1264.8 577.5L1265.1 576.1L1265.5 574.6L1265.8 573.2L1266.1 571.7L1266.5 570.2L1266.8 568.8L1267.2 567.3L1267.6 565.9L1267.9 564.4L1268.3 563.0L1268.6 561.5L1269.0 560.0L1269.3 558.6L1269.7 557.1L1270.1 555.7L1270.4 554.2L1270.8 552.8L1271.2 551.3L1271.6 549.8L1271.9 548.4L1272.3 546.9L1272.7 545.5L1273.1 544.0L1273.5 542.6L1273.8 541.1L1274.2 539.7L1274.6 538.2L1275.0 536.8L1275.4 535.3L1275.8 533.9L1276.2 532.4L1276.6 531.0L1277.0 529.6L1277.5 528.1L1277.9 526.7L1278.3 525.2L1278.7 523.8L1279.1 522.3L1279.6 520.9L1280.0 519.5L1280.5 518.0L1280.9 516.6L1281.3 515.2L1281.8 513.7L1282.2 512.3L1282.7 510.9L1283.2 509.5L1283.6 508.0L1284.1 506.6L1284.6 505.2L1285.1 503.8L1285.5 502.3L1286.0 500.9L1286.5 499.5L1287.0 498.1L1287.5 496.7L1288.0 495.3L1288.5 493.9L1289.1 492.4L1289.6 491.0L1290.1 489.6L1290.7 488.2L1291.2 486.8L1291.7 485.4L1292.3 484.0L1292.8 482.6L1293.4 481.2L1294.0 479.9L1294.6 478.5L1295.1 477.1L1295.7 475.7L1296.3 474.3L1296.9 472.9L1297.6 471.6L1298.2 470.2L1298.9 468.9L1299.6 467.6L1300.3 466.2L1301.0 464.9L1301.8 463.6L1302.6 462.4L1303.4 461.1L1304.3 459.9L1305.2 458.7L1306.1 457.5L1307.1 456.3L1308.1 455.2L1309.1 454.1L1310.2 453.0L1311.4 452.1L1312.6 451.3L1313.9 450.6L1315.2 450.0L1316.6 449.7L1318.0 449.5L1319.5 449.4L1321.0 449.5L1322.5 449.7L1324.0 450.0L1325.5 450.5L1327.0 451.0L1328.4 451.6L1329.8 452.4L1331.1 453.2L1332.3 454.0L1333.4 454.9L1334.5 455.9L1335.5 456.9L1336.5 458.0L1337.5 459.1L1338.4 460.2L1339.3 461.4L1340.3 462.6L1341.2 463.8L1342.2 465.0L1343.3 466.2L1344.3 467.4L1345.4 468.6L1346.5 469.7L1347.7 470.7L1348.9 471.6L1350.2 472.4L1351.4 473.0L1352.7 473.5L1354.1 473.8L1355.5 474.0L1356.9 473.9L1358.2 473.6L1359.6 473.1L1360.8 472.4L1362.1 471.4L1363.3 470.4L1364.4 469.2L1365.5 468.0L1366.7 466.8L1367.8 465.6L1368.9 464.5L1370.1 463.5L1371.3 462.7L1372.6 462.1L1373.9 461.7L1375.2 461.6L1376.5 461.7L1377.7 462.1L1378.9 462.7L1379.9 463.6L1380.7 464.7L1381.5 466.0L1382.1 467.4L1382.6 468.9L1383.1 470.4L1383.4 472.0L1383.7 473.5L1384.0 475.1L1384.2 476.6L1384.4 478.1L1384.5 479.6L1384.7 481.1L1384.9 482.6L1385.1 484.0L1385.3 485.5L1385.5 487.0L1385.7 488.5L1385.9 490.0L1386.1 491.5L1386.4 493.0L1386.6 494.4L1386.8 495.9L1387.0 497.4L1387.2 498.9L1387.4 500.4L1387.6 501.9L1387.8 503.3L1388.0 504.8L1388.2 506.3L1388.4 507.8L1388.6 509.3L1388.8 510.8L1389.0 512.2L1389.2 513.7L1389.4 515.2L1389.6 516.7L1389.7 518.2L1389.9 519.7L1390.1 521.2L1390.3 522.7L1390.4 524.1L1390.6 525.6L1390.7 527.1L1390.9 528.6L1391.1 530.1L1391.2 531.6L1391.4 533.1L1391.5 534.6L1391.7 536.1L1391.8 537.6L1391.9 539.1L1392.1 540.6L1392.2 542.0L1392.4 543.5L1392.5 545.0L1392.6 546.5L1392.8 548.0L1392.9 549.5L1393.0 551.0L1393.1 552.5L1393.3 554.0L1393.4 555.5L1393.5 557.0L1393.6 558.5L1393.7 560.0L1393.8 561.5L1394.0 563.0L1394.1 564.5L1394.2 566.0L1394.3 567.5L1394.4 569.0L1394.5 570.5L1394.6 572.0L1394.7 573.5L1394.8 575.0L1394.9 576.5L1395.0 578.0L1395.1 579.5L1395.2 581.0L1395.3 582.5L1395.4 584.0L1395.5 585.5L1395.6 587.0L1395.7 588.5L1395.8 590.0L1395.9 591.5L1396.0 593.0L1396.0 594.5L1396.1 596.0L1396.2 597.5L1396.3 599.0L1396.4 600.5L1396.5 602.0L1396.6 603.5L1396.7 604.9L1396.8 606.4L1396.9 607.9L1396.9 609.4L1397.0 610.9L1397.1 612.4L1397.2 613.9L1397.3 615.4L1397.4 616.9L1397.5 618.4L1397.6 619.9L1397.7 621.4L1397.7 622.9L1397.8 624.4L1397.9 625.9L1398.0 627.4L1398.1 628.9L1398.2 630.4L1398.3 631.9L1398.4 633.4L1398.5 634.9L1398.5 636.4L1398.6 637.9L1398.7 639.4L1398.8 640.9L1398.9 642.4L1399.0 643.9L1399.1 645.4L1399.2 646.9L1399.3 648.4L1399.3 649.9L1399.4 651.4L1399.5 652.9L1399.6 654.4L1399.7 655.9L1399.8 657.4L1399.9 658.9L1400.0 660.4L1400.1 661.9L1400.1 663.4L1400.2 664.9L1400.3 666.4L1400.4 667.9L1400.5 669.4L1400.6 670.9L1400.7 672.4L1400.8 673.9L1400.9 675.4L1400.9 676.9L1401.0 678.4L1401.1 679.9L1401.2 681.4L1401.3 682.9L1401.4 684.4L1401.5 685.9L1401.6 687.4L1401.7 688.9L1401.7 690.4L1401.8 691.9L1401.9 693.4L1402.0 694.9L1402.1 696.4L1402.2 697.9L1402.3 699.4L1402.4 700.9L1402.4 702.4L1402.5 703.9L1402.6 705.4L1402.7 706.9L1402.8 708.4L1402.9 709.9L1403.0 711.4L1403.1 712.9L1403.2 714.4L1403.2 715.8L1403.3 717.3L1403.4 718.8L1403.5 720.3L1403.6 721.8L1403.7 723.3L1403.8 724.8L1403.9 726.3L1404.0 727.8L1404.0 729.3L1404.1 730.8L1404.2 732.3L1404.3 733.8L1404.4 735.3L1404.5 736.8L1404.6 738.3L1404.7 739.8L1404.8 741.3L1404.8 742.8L1404.9 744.3L1405.0 745.8L1405.1 747.3L1405.2 748.8L1405.3 750.3L1405.4 751.8L1405.5 753.3L1405.5 754.8L1405.6 756.3L1405.7 757.8L1405.8 759.3L1405.9 760.8L1406.0 762.3L1406.1 763.8L1406.2 765.3L1406.3 766.8L1406.3 768.3L1406.4 769.8L1406.5 771.3L1406.6 772.8L1406.7 774.3L1406.8 775.8L1406.9 777.2L1407.0 778.7L1407.1 780.2L1407.1 781.7L1407.2 783.2L1407.3 784.7L1407.4 786.2L1407.5 787.7L1407.6 789.2L1407.7 790.7L1407.8 792.2L1407.8 793.7L1407.9 795.2L1408.0 796.7L1408.1 798.2L1408.2 799.7L1408.3 801.2L1408.4 802.7L1408.5 804.2L1408.6 805.7L1408.6 807.2L1408.7 808.7L1408.8 810.2L1408.9 811.7L1409.0 813.2L1409.1 814.7L1409.2 816.2L1409.3 817.7L1409.3 819.2L1409.4 820.7L1409.5 822.2L1409.6 823.7L1409.7 825.2L1409.8 826.7L1409.9 828.2L1410.0 829.7L1410.0 831.2L1410.1 832.7L1410.2 834.2L1410.3 835.7L1410.4 837.2L1410.5 838.7L1410.6 840.1L1410.7 841.6L1410.8 843.1L1410.8 844.6L1410.9 846.1L1411.0 847.6L1411.1 849.1L1411.2 850.6L1411.3 852.1L1411.4 853.6L1411.5 855.1L1411.5 856.6L1411.6 858.1L1411.7 859.6L1411.8 861.1L1411.9 862.6L1412.0 864.1L1412.1 865.6L1412.2 867.1L1412.2 868.6L1412.3 870.1L1412.4 871.6L1412.5 873.1L1412.6 874.6L1412.7 876.1L1412.8 877.6L1412.9 879.1L1412.9 880.6L1413.0 882.1L1413.1 883.6L1413.2 885.1L1413.3 886.6L1413.4 888.1L1413.5 889.6L1413.6 891.1L1413.6 892.6L1413.7 894.1L1413.8 895.6L1413.9 897.1L1414.0 898.6L1414.1 900.1L1414.2 901.6L1414.3 903.1L1414.3 904.6L1414.4 906.1L1414.5 907.6L1414.6 909.1L1414.7 910.6L1414.8 912.1L1414.9 913.6L1415.0 915.1L1415.0 916.6L1415.1 918.1L1415.2 919.6L1415.3 921.1L1415.4 922.6L1415.5 924.1L1415.6 925.6L1415.7 927.1L1415.7 928.6L1415.8 930.1L1415.9 931.6L1416.0 933.1L1416.1 934.6L1416.2 936.1L1416.3 937.6L1416.4 939.1L1416.4 940.6L1416.5 942.1L1416.6 943.6L1416.7 945.1L1416.8 946.6L1416.9 948.1L1417.0 949.6L1417.1 951.1L1417.1 952.6L1417.2 954.1L1417.3 955.5L1417.4 957.0L1417.5 958.5L1417.6 960.0L1417.7 961.5L1417.8 963.0L1417.9 964.5L1417.9 966.0L1418.0 967.5L1418.1 969.0L1418.2 970.5L1418.3 972.0L1418.4 973.5L1418.5 975.0L1418.6 976.5L1418.7 978.0L1418.8 979.5L1418.9 981.0L1419.0 982.5L1419.1 984.0L1419.1 985.5L1419.2 987.0L1419.3 988.5L1419.4 990.0L1419.5 991.5L1419.6 993.0L1419.7 994.5L1419.8 996.0L1419.9 997.5L1420.0 999.0L1420.1 1000.5L1420.2 1002.0L1420.3 1003.5L1420.4 1005.0L1420.5 1006.5L1420.6 1008.0L1420.7 1009.5L1420.8 1011.0L1420.9 1012.5L1421.0 1014.0L1421.1 1015.5L1421.2 1017.0L1421.3 1018.5L1421.4 1020.0L1421.6 1021.5L1421.7 1023.0L1421.8 1024.5L1421.9 1026.0L1422.0 1027.5L1422.1 1029.0L1422.2 1030.5L1422.3 1032.0L1422.4 1033.5L1422.5 1035.0L1422.7 1036.5L1422.8 1038.0L1422.9 1039.5L1423.0 1041.0L1423.1 1042.5L1423.2 1044.0L1423.4 1045.5L1423.5 1047.0L1423.6 1048.5L1423.7 1050.0L1423.8 1051.5L1424.0 1052.9L1424.1 1054.4L1424.2 1055.9L1424.3 1057.4L1424.5 1058.9L1424.6 1060.4L1424.7 1061.9L1424.9 1063.4L1425.0 1064.9L1425.1 1066.4L1425.2 1067.9L1425.4 1069.4L1425.5 1070.9L1425.6 1072.4L1425.8 1073.9L1425.9 1075.4L1426.1 1076.9L1426.2 1078.4L1426.3 1079.9L1426.5 1081.3L1426.6 1082.8L1426.8 1084.3L1426.9 1085.8L1427.1 1087.3L1427.2 1088.8L1427.4 1090.3L1427.5 1091.8L1427.7 1093.3L1427.8 1094.8L1428.0 1096.3L1428.1 1097.8L1428.3 1099.3L1428.4 1100.7L1428.6 1102.2L1428.8 1103.7L1428.9 1105.2L1429.1 1106.7L1429.2 1108.2L1429.4 1109.7L1429.6 1111.2L1429.7 1112.7L1429.9 1114.2L1430.1 1115.7L1430.2 1117.1L1430.4 1118.6L1430.6 1120.1L1430.8 1121.6L1430.9 1123.1L1431.1 1124.6L1431.3 1126.1L1431.5 1127.6L1431.7 1129.0L1431.9 1130.5L1432.0 1132.0L1432.2 1133.5L1432.4 1135.0L1432.6 1136.5L1432.8 1138.0L1433.0 1139.5L1433.2 1140.9L1433.4 1142.4L1433.6 1143.9L1433.8 1145.4L1434.0 1146.9L1434.2 1148.4L1434.4 1149.8L1434.6 1151.3L1434.8 1152.8L1435.0 1154.3L1435.2 1155.8L1435.4 1157.3L1435.6 1158.8L1435.9 1160.2L1436.1 1161.7L1436.3 1163.2L1436.5 1164.7L1436.7 1166.2L1437.0 1167.6L1437.2 1169.1L1437.4 1170.6L1437.6 1172.1L1437.9 1173.6L1438.1 1175.0L1438.3 1176.5L1438.6 1178.0L1438.8 1179.5L1439.1 1181.0L1439.3 1182.4L1439.5 1183.9L1439.8 1185.4L1440.0 1186.9L1440.3 1188.4L1440.5 1189.8L1440.8 1191.3L1441.1 1192.8L1441.3 1194.3L1441.6 1195.7L1441.9 1197.2L1442.1 1198.7L1442.4 1200.2L1442.7 1201.6L1443.0 1203.1L1443.3 1204.6L1443.6 1206.0L1443.9 1207.5L1444.2 1209.0L1444.6 1210.5L1444.9 1211.9L1445.2 1213.4L1445.6 1214.8L1446.0 1216.3L1446.3 1217.8L1446.7 1219.2L1447.1 1220.7L1447.5 1222.2L1447.9 1223.6L1448.4 1225.1L1448.8 1226.5L1449.3 1228.0L1449.7 1229.4L1450.2 1230.9L1450.7 1232.3L1451.2 1233.8L1451.7 1235.2L1452.3 1236.7L1452.8 1238.1L1453.4 1239.5L1454.0 1241.0L1454.6 1242.4L1455.2 1243.8L1455.8 1245.2L1456.5 1246.6L1457.2 1247.9L1457.9 1249.3L1458.7 1250.6L1459.5 1251.8L1460.3 1253.1L1461.2 1254.3L1462.0 1255.5L1463.0 1256.6L1463.9 1257.7L1465.0 1258.7L1466.0 1259.7L1467.1 1260.7L1468.2 1261.6L1469.4 1262.4L1470.6 1263.2L1471.8 1264.0L1473.1 1264.8L1474.4 1265.5L1475.7 1266.1L1477.0 1266.8L1478.4 1267.4L1479.8 1267.9L1481.2 1268.5L1482.6 1269.0L1484.0 1269.5L1485.5 1269.9L1487.0 1270.3L1488.5 1270.8L1489.9 1271.1L1491.4 1271.5L1493.0 1271.8L1494.5 1272.2L1496.0 1272.5L1497.5 1272.8L1499.0 1273.0L1500.5 1273.3L1502.0 1273.6L1503.5 1273.8L1505.0 1274.0L1506.5 1274.2L1508.0 1274.5L1509.5 1274.6L1511.0 1274.8L1512.5 1275.0L1514.0 1275.2L1515.5 1275.3L1517.0 1275.5L1518.5 1275.6L1520.0 1275.7L1521.5 1275.9L1523.0 1276.0L1524.5 1276.1L1526.0 1276.2L1527.5 1276.3L1529.0 1276.4L1530.4 1276.5L1531.9 1276.6L1533.4 1276.6L1534.9 1276.7L1536.4 1276.8L1537.9 1276.9L1539.4 1276.9L1540.8 1277.0L1542.3 1277.1L1543.8 1277.1L1545.3 1277.2L1546.8 1277.2L1548.3 1277.3L1549.8 1277.4L1551.3 1277.4L1552.7 1277.5L1554.2 1277.5L1555.7 1277.6L1557.2 1277.7L1558.7 1277.8L1560.2 1277.8L1561.7 1277.9L1563.2 1278.0L1564.7 1278.1L1566.2 1278.2L1567.7 1278.3L1569.2 1278.4L1570.7 1278.5L1572.2 1278.6L1573.7 1278.7L1575.2 1278.8L1576.7 1278.9L1578.2 1279.0L1579.7 1279.1L1581.2 1279.2L1582.7 1279.4L1584.2 1279.5L1585.7 1279.6L1587.2 1279.7L1588.7 1279.9L1590.2 1280.0L1591.7 1280.1L1593.2 1280.2L1594.7 1280.4L1596.2 1280.5L1597.7 1280.6L1599.2 1280.7L1600.7 1280.9L1602.2 1281.0L1603.7 1281.1L1605.2 1281.2L1606.7 1281.3L1608.2 1281.5L1609.7 1281.6L1611.2 1281.7L1612.7 1281.8L1614.2 1281.9L1615.7 1282.0L1617.2 1282.1L1618.7 1282.3L1620.2 1282.4L1621.7 1282.5L1623.2 1282.6L1624.7 1282.7L1626.2 1282.8L1627.7 1282.9L1629.2 1283.0L1630.7 1283.1L1632.2 1283.2L1633.7 1283.3L1635.2 1283.4L1636.7 1283.5L1638.2 1283.6L1639.7 1283.7L1641.2 1283.8L1642.7 1283.9L1644.1 1284.0L1645.6 1284.1L1647.1 1284.2L1648.6 1284.2L1650.1 1284.3L1651.6 1284.4L1653.1 1284.5L1654.6 1284.6L1656.1 1284.7L1657.6 1284.8L1659.1 1284.8L1660.6 1284.9L1662.1 1285.0L1663.6 1285.1L1665.1 1285.2L1666.6 1285.2L1668.1 1285.3L1669.6 1285.4L1671.1 1285.5L1672.6 1285.5L1674.1 1285.6L1675.6 1285.7L1677.1 1285.8L1678.6 1285.8L1680.1 1285.9L1681.6 1286.0L1683.1 1286.0L1684.6 1286.1L1686.1 1286.2L1687.6 1286.2L1689.1 1286.3L1690.6 1286.4L1692.1 1286.4L1693.6 1286.5L1695.1 1286.6L1696.6 1286.6L1698.1 1286.7L1699.6 1286.7L1701.1 1286.8L1702.6 1286.9L1704.1 1286.9L1705.6 1287.0L1707.1 1287.0L1708.6 1287.1L1710.1 1287.1L1711.6 1287.2L1713.1 1287.2L1714.6 1287.3L1716.1 1287.3L1717.6 1287.4L1719.1 1287.5L1720.6 1287.5L1722.1 1287.6L1723.6 1287.6L1725.1 1287.7L1726.6 1287.7L1728.1 1287.8L1729.6 1287.8L1731.1 1287.8L1732.6 1287.9L1734.1 1287.9L1735.6 1288.0L1737.1 1288.0L1738.6 1288.1L1740.1 1288.1L1741.6 1288.2L1743.1 1288.2L1744.6 1288.3L1746.1 1288.3L1747.6 1288.4L1749.1 1288.4L1750.6 1288.4L1752.1 1288.5L1753.6 1288.5L1755.1 1288.6L1756.6 1288.6L1758.1 1288.7L1759.6 1288.7L1761.1 1288.7L1762.6 1288.8L1764.1 1288.8L1765.6 1288.9L1767.1 1288.9L1768.6 1289.0L1770.1 1289.0L1771.6 1289.0L1773.1 1289.1L1774.6 1289.1L1776.1 1289.2L1777.6 1289.2L1779.1 1289.2L1780.6 1289.3L1782.1 1289.3L1783.6 1289.4L1785.1 1289.4L1786.6 1289.4L1788.1 1289.5L1789.6 1289.5L1791.1 1289.6L1792.6 1289.6L1794.1 1289.7L1795.6 1289.7"/>
</g>
<g fill="none" stroke-width="15.5" stroke-linecap="round">
<path stroke="#DB4F4F" d="M854.4 132.3H1015.6"/>
<path stroke="#2480BF" d="M1175.5 132.3H1335.5"/>
</g>
<text id="aFI" x="250.70" y="180.75" font-size="69.50" textLength="61.50" lengthAdjust="spacingAndGlyphs" font-weight="bold">FI</text>
<text id="aA" x="1938.00" y="163.25" font-size="69.00" textLength="51.00" lengthAdjust="spacingAndGlyphs" font-weight="bold">A</text>
<text id="aL800" x="339.50" y="241.40" font-size="68.20" textLength="102.00" lengthAdjust="spacingAndGlyphs" text-anchor="end">800</text>
<text id="aL700" x="339.50" y="376.90" font-size="68.20" textLength="102.00" lengthAdjust="spacingAndGlyphs" text-anchor="end">700</text>
<text id="aL600" x="339.50" y="512.40" font-size="68.20" textLength="102.00" lengthAdjust="spacingAndGlyphs" text-anchor="end">600</text>
<text id="aL500" x="339.50" y="647.90" font-size="68.20" textLength="102.00" lengthAdjust="spacingAndGlyphs" text-anchor="end">500</text>
<text id="aL400" x="339.50" y="783.40" font-size="68.20" textLength="102.00" lengthAdjust="spacingAndGlyphs" text-anchor="end">400</text>
<text id="aL300" x="339.50" y="918.90" font-size="68.20" textLength="102.00" lengthAdjust="spacingAndGlyphs" text-anchor="end">300</text>
<text id="aL200" x="339.50" y="1054.40" font-size="68.20" textLength="102.00" lengthAdjust="spacingAndGlyphs" text-anchor="end">200</text>
<text id="aL100" x="339.50" y="1189.90" font-size="68.20" textLength="102.00" lengthAdjust="spacingAndGlyphs" text-anchor="end">100</text>
<text id="aL0" x="339.50" y="1325.40" font-size="68.20" textLength="34.00" lengthAdjust="spacingAndGlyphs" text-anchor="end">0</text>
<text id="aR0_30" x="1864.60" y="241.40" font-size="68.20" textLength="119.00" lengthAdjust="spacingAndGlyphs">0.30</text>
<text id="aR0_25" x="1864.60" y="422.07" font-size="68.20" textLength="119.00" lengthAdjust="spacingAndGlyphs">0.25</text>
<text id="aR0_20" x="1864.60" y="602.73" font-size="68.20" textLength="119.00" lengthAdjust="spacingAndGlyphs">0.20</text>
<text id="aR0_15" x="1864.60" y="783.40" font-size="68.20" textLength="119.00" lengthAdjust="spacingAndGlyphs">0.15</text>
<text id="aR0_10" x="1864.60" y="964.07" font-size="68.20" textLength="119.00" lengthAdjust="spacingAndGlyphs">0.10</text>
<text id="aR0_05" x="1864.60" y="1144.74" font-size="68.20" textLength="119.00" lengthAdjust="spacingAndGlyphs">0.05</text>
<text id="aR0_00" x="1864.60" y="1325.40" font-size="68.20" textLength="119.00" lengthAdjust="spacingAndGlyphs">0.00</text>
<text id="aX250" x="407.50" y="1423.20" font-size="68.20" textLength="102.00" lengthAdjust="spacingAndGlyphs" text-anchor="middle">250</text>
<text id="aX350" x="716.50" y="1423.20" font-size="68.20" textLength="102.00" lengthAdjust="spacingAndGlyphs" text-anchor="middle">350</text>
<text id="aX450" x="1025.50" y="1423.20" font-size="68.20" textLength="102.00" lengthAdjust="spacingAndGlyphs" text-anchor="middle">450</text>
<text id="aX550" x="1334.50" y="1423.20" font-size="68.20" textLength="102.00" lengthAdjust="spacingAndGlyphs" text-anchor="middle">550</text>
<text id="aX650" x="1643.50" y="1423.20" font-size="68.20" textLength="102.00" lengthAdjust="spacingAndGlyphs" text-anchor="middle">650</text>
<text id="aT" x="891.50" y="1479.70" font-size="68.50" textLength="528.00" lengthAdjust="spacingAndGlyphs" font-weight="bold">Wavelength (nm)</text>
<text id="aLFI" x="1031.50" y="151.20" font-size="70.00" textLength="61.50" lengthAdjust="spacingAndGlyphs" style="fill:#7F7F7F">FI</text>
<text id="aLA" x="1352.00" y="151.20" font-size="69.00" textLength="51.00" lengthAdjust="spacingAndGlyphs" style="fill:#7F7F7F">A</text>
<text id="capa" y="1434.2" font-size="85"><tspan x="25.4" textLength="25.8" lengthAdjust="spacingAndGlyphs">(</tspan><tspan x="52.2" y="1433.8" font-weight="bold" font-size="87" textLength="41.5" lengthAdjust="spacingAndGlyphs">a</tspan><tspan x="93.3" y="1434.2" textLength="25.8" lengthAdjust="spacingAndGlyphs">)</tspan></text>
<!-- chart (b) -->
<path fill="#D9D9D9" fill-rule="evenodd" d="M198 1622H2024V3093H198ZM205 1629H2017V3086H205Z"/>
<g fill="#BFBFBF">
<rect x="410" y="1797" width="7" height="1085"/>
<rect x="1800" y="1797" width="8" height="1085"/>
<rect x="390" y="2878" width="1439" height="7"/>
<rect x="390" y="1794" width="24" height="7"/>
<rect x="390" y="1930" width="24" height="7"/>
<rect x="390" y="2065" width="24" height="7"/>
<rect x="390" y="2200" width="24" height="7"/>
<rect x="390" y="2336" width="24" height="7"/>
<rect x="390" y="2472" width="24" height="7"/>
<rect x="390" y="2607" width="24" height="7"/>
<rect x="390" y="2742" width="24" height="7"/>
<rect x="1803" y="1794" width="26" height="7"/>
<rect x="1803" y="1975" width="26" height="7"/>
<rect x="1803" y="2155" width="26" height="7"/>
<rect x="1803" y="2336" width="26" height="7"/>
<rect x="1803" y="2517" width="26" height="7"/>
<rect x="1803" y="2697" width="26" height="7"/>
<rect x="410" y="2881" width="7" height="25"/>
<rect x="549" y="2881" width="7" height="25"/>
<rect x="688" y="2881" width="7" height="25"/>
<rect x="827" y="2881" width="7" height="25"/>
<rect x="966" y="2881" width="7" height="25"/>
<rect x="1105" y="2881" width="7" height="25"/>
<rect x="1244" y="2881" width="7" height="25"/>
<rect x="1383" y="2881" width="7" height="25"/>
<rect x="1522" y="2881" width="7" height="25"/>
<rect x="1661" y="2881" width="7" height="25"/>
<rect x="1800" y="2881" width="8" height="25"/>
</g>
<path d="M525.4 2830.8L629.4 2398.8L722.5 2180.7L771.0 2144.5L913.0 2025.6L982.7 1964.3L1050.5 2004.7L1134.3 2048.2L1263.4 2141.6L1427.5 2377.7L1540.0 2862.1L1666.6 2870.5" fill="none" stroke="#E00000" stroke-width="10.3" stroke-linejoin="round" stroke-linecap="round"/>
<path d="M525.4 2813.4L542.1 2848.4L508.7 2848.4Z" fill="#E00000" stroke="#E00000" stroke-width="6" stroke-linejoin="round"/>
<path d="M629.4 2381.4L646.1 2416.4L612.7 2416.4Z" fill="#E00000" stroke="#E00000" stroke-width="6" stroke-linejoin="round"/>
<path d="M722.5 2163.3L739.2 2198.3L705.8 2198.3Z" fill="#E00000" stroke="#E00000" stroke-width="6" stroke-linejoin="round"/>
<path d="M771.0 2127.1L787.7 2162.1L754.3 2162.1Z" fill="#E00000" stroke="#E00000" stroke-width="6" stroke-linejoin="round"/>
<path d="M913.0 2008.2L929.7 2043.2L896.3 2043.2Z" fill="#E00000" stroke="#E00000" stroke-width="6" stroke-linejoin="round"/>
<path d="M982.7 1946.9L999.4 1981.9L966.0 1981.9Z" fill="#E00000" stroke="#E00000" stroke-width="6" stroke-linejoin="round"/>
<path d="M1050.5 1987.3L1067.2 2022.3L1033.8 2022.3Z" fill="#E00000" stroke="#E00000" stroke-width="6" stroke-linejoin="round"/>
<path d="M1134.3 2030.8L1151.0 2065.8L1117.6 2065.8Z" fill="#E00000" stroke="#E00000" stroke-width="6" stroke-linejoin="round"/>
<path d="M1263.4 2124.2L1280.1 2159.2L1246.7 2159.2Z" fill="#E00000" stroke="#E00000" stroke-width="6" stroke-linejoin="round"/>
<path d="M1427.5 2360.3L1444.2 2395.3L1410.8 2395.3Z" fill="#E00000" stroke="#E00000" stroke-width="6" stroke-linejoin="round"/>
<path d="M1540.0 2844.7L1556.7 2879.7L1523.3 2879.7Z" fill="#E00000" stroke="#E00000" stroke-width="6" stroke-linejoin="round"/>
<path d="M1666.6 2853.1L1683.3 2888.1L1649.9 2888.1Z" fill="#E00000" stroke="#E00000" stroke-width="6" stroke-linejoin="round"/>
<path d="M525.4 2345.1L629.4 2218.8L722.5 2130.0L771.0 2108.8L913.0 2045.5L982.7 2023.9L1050.5 2065.1L1134.3 2116.0L1263.4 2198.3L1427.5 2419.0L1540.0 2733.0L1666.6 2796.9" fill="none" stroke="#2480BF" stroke-width="10.7" stroke-linejoin="round" stroke-linecap="round"/>
<rect x="508.1" y="2327.8" width="34.6" height="34.6" fill="#2480BF" stroke="#2480BF" stroke-width="6" stroke-linejoin="round"/>
<rect x="612.1" y="2201.5" width="34.6" height="34.6" fill="#2480BF" stroke="#2480BF" stroke-width="6" stroke-linejoin="round"/>
<rect x="705.2" y="2112.7" width="34.6" height="34.6" fill="#2480BF" stroke="#2480BF" stroke-width="6" stroke-linejoin="round"/>
<rect x="753.7" y="2091.5" width="34.6" height="34.6" fill="#2480BF" stroke="#2480BF" stroke-width="6" stroke-linejoin="round"/>
<rect x="895.7" y="2028.2" width="34.6" height="34.6" fill="#2480BF" stroke="#2480BF" stroke-width="6" stroke-linejoin="round"/>
<rect x="965.4" y="2006.6" width="34.6" height="34.6" fill="#2480BF" stroke="#2480BF" stroke-width="6" stroke-linejoin="round"/>
<rect x="1033.2" y="2047.8" width="34.6" height="34.6" fill="#2480BF" stroke="#2480BF" stroke-width="6" stroke-linejoin="round"/>
<rect x="1117.0" y="2098.7" width="34.6" height="34.6" fill="#2480BF" stroke="#2480BF" stroke-width="6" stroke-linejoin="round"/>
<rect x="1246.1" y="2181.0" width="34.6" height="34.6" fill="#2480BF" stroke="#2480BF" stroke-width="6" stroke-linejoin="round"/>
<rect x="1410.2" y="2401.7" width="34.6" height="34.6" fill="#2480BF" stroke="#2480BF" stroke-width="6" stroke-linejoin="round"/>
<rect x="1522.7" y="2715.7" width="34.6" height="34.6" fill="#2480BF" stroke="#2480BF" stroke-width="6" stroke-linejoin="round"/>
<rect x="1649.3" y="2779.6" width="34.6" height="34.6" fill="#2480BF" stroke="#2480BF" stroke-width="6" stroke-linejoin="round"/>
<path d="M715 1689.5H873.8" fill="none" stroke="#E00000" stroke-width="10.4" stroke-linecap="round"/>
<path d="M795.4 1671.5L812.1 1706.5L778.7 1706.5Z" fill="#E00000" stroke="#E00000" stroke-width="6" stroke-linejoin="round"/>
<path d="M1046 1689.5H1206" fill="none" stroke="#2480BF" stroke-width="10.4" stroke-linecap="round"/>
<rect x="1108.9" y="1672.0" width="34.6" height="34.6" fill="#2480BF" stroke="#2480BF" stroke-width="6" stroke-linejoin="round"/>
<text id="bFI" x="256.70" y="1755.75" font-size="69.50" textLength="61.50" lengthAdjust="spacingAndGlyphs" font-weight="bold">FI</text>
<text id="bA" x="1944.00" y="1738.25" font-size="69.00" textLength="51.00" lengthAdjust="spacingAndGlyphs" font-weight="bold">A</text>
<text id="bL800" x="345.50" y="1816.40" font-size="68.20" textLength="102.00" lengthAdjust="spacingAndGlyphs" text-anchor="end">800</text>
<text id="bL700" x="345.50" y="1951.90" font-size="68.20" textLength="102.00" lengthAdjust="spacingAndGlyphs" text-anchor="end">700</text>
<text id="bL600" x="345.50" y="2087.40" font-size="68.20" textLength="102.00" lengthAdjust="spacingAndGlyphs" text-anchor="end">600</text>
<text id="bL500" x="345.50" y="2222.90" font-size="68.20" textLength="102.00" lengthAdjust="spacingAndGlyphs" text-anchor="end">500</text>
<text id="bL400" x="345.50" y="2358.40" font-size="68.20" textLength="102.00" lengthAdjust="spacingAndGlyphs" text-anchor="end">400</text>
<text id="bL300" x="345.50" y="2493.90" font-size="68.20" textLength="102.00" lengthAdjust="spacingAndGlyphs" text-anchor="end">300</text>
<text id="bL200" x="345.50" y="2629.40" font-size="68.20" textLength="102.00" lengthAdjust="spacingAndGlyphs" text-anchor="end">200</text>
<text id="bL100" x="345.50" y="2764.90" font-size="68.20" textLength="102.00" lengthAdjust="spacingAndGlyphs" text-anchor="end">100</text>
<text id="bL0" x="345.50" y="2900.40" font-size="68.20" textLength="34.00" lengthAdjust="spacingAndGlyphs" text-anchor="end">0</text>
<text id="bR0_30" x="1870.60" y="1816.40" font-size="68.20" textLength="119.00" lengthAdjust="spacingAndGlyphs">0.30</text>
<text id="bR0_25" x="1870.60" y="1997.07" font-size="68.20" textLength="119.00" lengthAdjust="spacingAndGlyphs">0.25</text>
<text id="bR0_20" x="1870.60" y="2177.73" font-size="68.20" textLength="119.00" lengthAdjust="spacingAndGlyphs">0.20</text>
<text id="bR0_15" x="1870.60" y="2358.40" font-size="68.20" textLength="119.00" lengthAdjust="spacingAndGlyphs">0.15</text>
<text id="bR0_10" x="1870.60" y="2539.07" font-size="68.20" textLength="119.00" lengthAdjust="spacingAndGlyphs">0.10</text>
<text id="bR0_05" x="1870.60" y="2719.74" font-size="68.20" textLength="119.00" lengthAdjust="spacingAndGlyphs">0.05</text>
<text id="bR0_00" x="1870.60" y="2900.40" font-size="68.20" textLength="119.00" lengthAdjust="spacingAndGlyphs">0.00</text>
<text id="bX3" x="413.50" y="2998.20" font-size="68.20" textLength="34.00" lengthAdjust="spacingAndGlyphs" text-anchor="middle">3</text>
<text id="bX4" x="552.50" y="2998.20" font-size="68.20" textLength="34.00" lengthAdjust="spacingAndGlyphs" text-anchor="middle">4</text>
<text id="bX5" x="691.50" y="2998.20" font-size="68.20" textLength="34.00" lengthAdjust="spacingAndGlyphs" text-anchor="middle">5</text>
<text id="bX6" x="830.50" y="2998.20" font-size="68.20" textLength="34.00" lengthAdjust="spacingAndGlyphs" text-anchor="middle">6</text>
<text id="bX7" x="969.50" y="2998.20" font-size="68.20" textLength="34.00" lengthAdjust="spacingAndGlyphs" text-anchor="middle">7</text>
<text id="bX8" x="1108.50" y="2998.20" font-size="68.20" textLength="34.00" lengthAdjust="spacingAndGlyphs" text-anchor="middle">8</text>
<text id="bX9" x="1247.50" y="2998.20" font-size="68.20" textLength="34.00" lengthAdjust="spacingAndGlyphs" text-anchor="middle">9</text>
<text id="bX10" x="1386.50" y="2998.20" font-size="68.20" textLength="68.00" lengthAdjust="spacingAndGlyphs" text-anchor="middle">10</text>
<text id="bX11" x="1525.50" y="2998.20" font-size="68.20" textLength="68.00" lengthAdjust="spacingAndGlyphs" text-anchor="middle">11</text>
<text id="bX12" x="1664.50" y="2998.20" font-size="68.20" textLength="68.00" lengthAdjust="spacingAndGlyphs" text-anchor="middle">12</text>
<text id="bX13" x="1803.50" y="2998.20" font-size="68.20" textLength="68.00" lengthAdjust="spacingAndGlyphs" text-anchor="middle">13</text>
<text id="bT" x="1073.00" y="3054.70" font-size="69.00" textLength="95.00" lengthAdjust="spacingAndGlyphs" font-weight="bold">pH</text>
<text id="bLFI" x="890.70" y="1707.30" font-size="70.00" textLength="61.50" lengthAdjust="spacingAndGlyphs" style="fill:#000">FI</text>
<text id="bLA" x="1222.70" y="1707.30" font-size="69.00" textLength="51.00" lengthAdjust="spacingAndGlyphs" style="fill:#000">A</text>
<text id="capb" y="3052.2" font-size="79.5"><tspan x="25.3">(</tspan><tspan x="52" y="3056.4" font-weight="bold" font-size="88" textLength="51" lengthAdjust="spacingAndGlyphs">b</tspan><tspan x="103.4" y="3052.2">)</tspan></text>
</svg>
</body>
</html>
